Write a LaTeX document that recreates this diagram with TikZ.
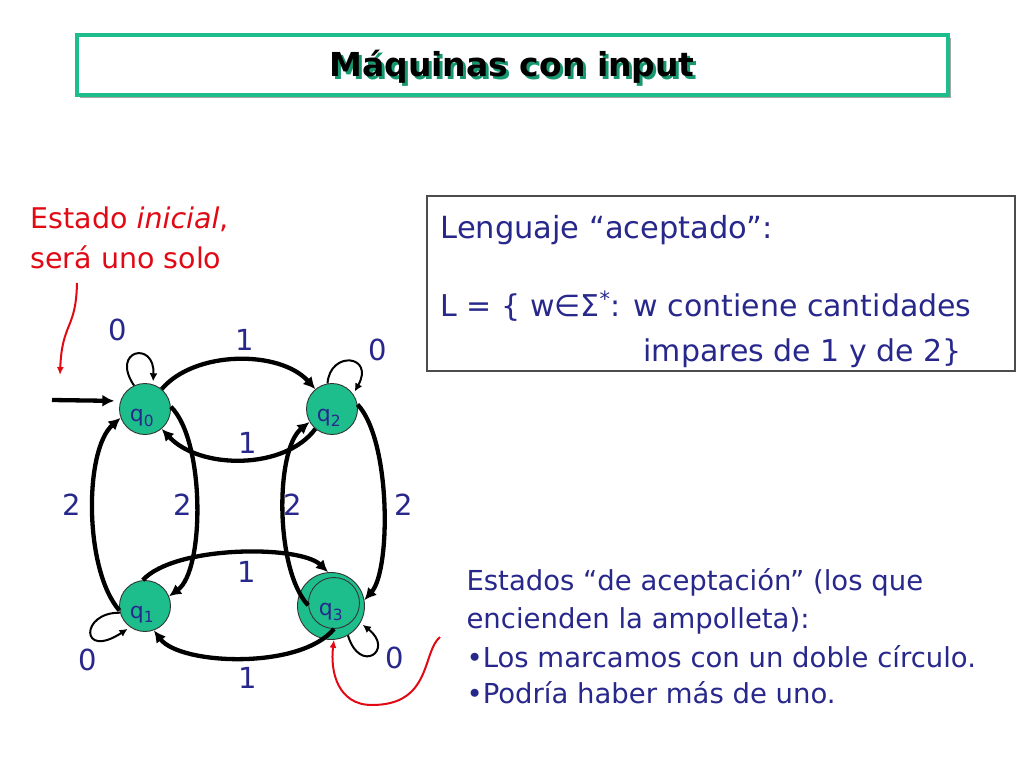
\documentclass[tikz,border=0pt]{standalone}
\usepackage{fontspec}
\setmainfont{DejaVu Sans}
\usetikzlibrary{arrows.meta,calc}
\definecolor{verde}{RGB}{30,190,140}
\definecolor{azul}{RGB}{40,40,140}
\definecolor{rojo}{RGB}{225,10,20}

\begin{document}
\begin{tikzpicture}[x=1pt, y=-1pt,
    estado/.style={circle, draw=black!80, line width=0.9pt, fill=verde, minimum size=51pt, inner sep=0pt},
    arista/.style={line width=4.3pt, -{Latex[length=12pt,width=12pt]}},
    lazo/.style={line width=2pt, -{Latex[length=8pt,width=8pt]}, shorten >=3pt},
    etiq/.style={text=azul, font=\fontsize{29}{30}\selectfont},
    nota/.style={text=azul, anchor=base west, font=\fontsize{27.5}{30}\selectfont},
    aviso/.style={rojo, line width=2pt, -{Latex[length=8pt,width=7pt]}}]

    \useasboundingbox (0,0) rectangle (1024,768);
    \fill[white] (0,0) rectangle (1024,768);

    % ---------------- Title ----------------
    \fill[black!35] (80,38) rectangle (951,98);
    \draw[verde, line width=4pt, fill=white] (77,35) rectangle (948,95);
    \node[text=verde!80!black, font=\bfseries\fontsize{33}{40}\selectfont] (sombra) at (515,70) {Máquinas con input};
    \node[font=\bfseries\fontsize{33}{40}\selectfont] (titulo) at (512,67) {Máquinas con input};

    % ---------------- States ----------------
    \node[estado] (q0) at (145,409) {};
    \node[estado] (q2) at (332,409) {};
    \node[estado] (q1) at (145,606) {};
    \node[estado, minimum size=67pt] (q3) at (331,606) {};
    \node[estado] (q3in) at (334,603) {};
    \foreach \q/\i in {q0/0,q1/1,q2/2,q3in/3} {
        \node[text=azul, font=\fontsize{22}{22}\selectfont] (l\i) at ($(\q)+(-3,9)$) {q\textsubscript{\i}};
    }

    % ---------------- Start arrow ----------------
    \coordinate (inicio) at (52,400);
    \draw[arista, shorten >=6pt] (inicio) -- (q0.162);

    % ---------------- Transitions on 1 ----------------
    \draw[arista] (q0.50) .. controls (195,350) and (280,350) .. (q2.130);
    \draw[arista] (q2.230) .. controls (285,470) and (200,470) .. (q0.310);
    \draw[arista] (q1.95) .. controls (175,545) and (300,545) .. (q3.95);
    \draw[arista] (q3in.270) .. controls (300,670) and (180,665) .. (q1.290);

    % ---------------- Transitions on 2 ----------------
    \draw[arista] (q0.5) .. controls (205,440) and (205,570) .. (q1.22);
    \draw[arista] (q1.190) .. controls (84,570) and (84,450) .. (q0.200);
    \draw[arista] (q2.10) .. controls (391,440) and (391,570) .. (q3.10);
    \draw[arista] (q3in.185) .. controls (275,570) and (275,450) .. (q2.210);

    % ---------------- Loops on 0 ----------------
    \draw[lazo] (q0.115) .. controls (110,350) and (155,340) .. (q0.72);
    \draw[lazo] (q2.100) .. controls (330,350) and (375,355) .. (q2.35);
    \draw[lazo] (q1.195) .. controls (80,612) and (80,660) .. (q1.235);
    \draw[lazo] (q3.300) .. controls (360,675) and (395,650) .. (q3.330);

    % ---------------- Labels ----------------
    \foreach \x/\y/\t [count=\n] in {118/330/0, 378/350/0, 88/660/0, 395/658/0,
        245/340/1, 248/443/1, 247/572/1, 248/678/1,
        72/505/2, 183/505/2, 293/505/2, 404/505/2} {
        \node[etiq] (e\n) at (\x,\y) {\t};
    }

    % ---------------- Initial state note ----------------
    \node[rojo, anchor=base west, font=\fontsize{28.5}{30}\selectfont] (ini1) at (27,228) {Estado \textit{inicial},};
    \node[rojo, anchor=base west, font=\fontsize{28.5}{30}\selectfont] (ini2) at (27,268) {será uno solo};
    \coordinate (r1) at (77,283);
    \coordinate (r2) at (60,375);
    \draw[aviso] (r1) .. controls (76,330) and (62,322) .. (r2);

    % ---------------- Language box ----------------
    \draw[black!70, line width=1.2pt] (427,196) rectangle (1015,371);
    \node[nota, font=\fontsize{30.5}{30}\selectfont] (leng) at (437,238) {Lenguaje “aceptado”:};
    \node[nota, font=\fontsize{30}{30}\selectfont] (def1) at (437,316) {L = \{ w∈Σ\textsuperscript{*}: w contiene cantidades};
    \node[nota, font=\fontsize{30}{30}\selectfont] (def2) at (640,361) {impares de 1 y de 2\}};

    % ---------------- Accepting states note ----------------
    \node[nota] (acep1) at (463,590) {Estados “de aceptación” (los que};
    \node[nota] (acep2) at (463,628) {encienden la ampolleta):};
    \node[nota] (acep3) at (463,667) {•Los marcamos con un doble círculo.};
    \node[nota] (acep4) at (463,703) {•Podría haber más de uno.};
    \coordinate (r3) at (440,637);
    \draw[aviso] (r3) .. controls (422,652) and (432,705) .. (372,705)
        .. controls (338,705) and (330,672) .. (q3.275);

\end{tikzpicture}
\end{document}
